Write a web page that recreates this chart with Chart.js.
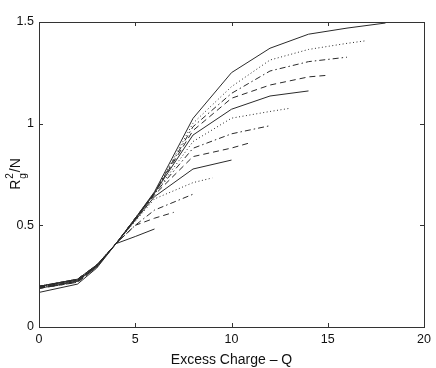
<!DOCTYPE html>
<html>
<head>
<meta charset="utf-8">
<script src="https://cdn.jsdelivr.net/npm/chart.js@4/dist/chart.umd.min.js"></script>
<style>
  body { margin: 0; background: #fff; }
</style>
</head>
<body>
<canvas id="rgChart" width="436" height="368"></canvas>
<script>
// charge values sampled (each curve stops at its own max charge)
const chargeGrid = [0, 2, 3, 4, 5, 6, 8, 10, 12, 14, 16, 18];
const maxCharge = [6, 7, 8, 9, 10, 11, 12, 13, 14, 15, 16, 17, 18];

// R_g^2/N, one list per curve
const rg6  = [0.17, 0.211, 0.29, 0.41, 0.445, 0.482];
const rg7  = [0.19, 0.22, 0.295, 0.41, 0.50, 0.535, 0.564];
const rg8  = [0.19, 0.22, 0.295, 0.41, 0.50, 0.575, 0.653];
const rg9  = [0.195, 0.225, 0.30, 0.41, 0.52, 0.63, 0.71, 0.733];
const rg10 = [0.19, 0.225, 0.30, 0.41, 0.525, 0.641, 0.777, 0.821];
const rg11 = [0.195, 0.225, 0.30, 0.41, 0.53, 0.65, 0.838, 0.88, 0.907];
const rg12 = [0.195, 0.23, 0.30, 0.41, 0.53, 0.655, 0.879, 0.95, 0.99];
const rg13 = [0.20, 0.23, 0.30, 0.41, 0.53, 0.655, 0.912, 1.027, 1.06, 1.075];
const rg14 = [0.20, 0.23, 0.30, 0.41, 0.53, 0.66, 0.944, 1.071, 1.136, 1.161];
const rg15 = [0.20, 0.235, 0.305, 0.41, 0.535, 0.66, 0.966, 1.125, 1.19, 1.23, 1.238];
const rg16 = [0.20, 0.235, 0.305, 0.41, 0.535, 0.66, 0.985, 1.149, 1.259, 1.305, 1.327];
const rg17 = [0.20, 0.235, 0.305, 0.41, 0.535, 0.66, 1.002, 1.182, 1.313, 1.365, 1.395, 1.408];
const rg18 = [0.20, 0.235, 0.305, 0.41, 0.535, 0.665, 1.026, 1.251, 1.371, 1.44, 1.47, 1.495];

const xTicks = [0, 5, 10, 15, 20];
const yTicks = [0, 0.5, 1, 1.5];

const allCurves = [rg6, rg7, rg8, rg9, rg10, rg11, rg12, rg13, rg14, rg15, rg16, rg17, rg18];
// matlab style order: solid, dashed, dash-dot, dotted
const dashStyles = [[], [6, 4], [6, 3, 1.5, 3], [1, 2.5]];

function chargesFor(qmax) {
    const qs = chargeGrid.filter(q => q <= qmax);
    if (qs[qs.length - 1] !== qmax) qs.push(qmax);
    return qs;
}

const datasets = allCurves.map((vals, i) => {
    const qs = chargesFor(maxCharge[i]);
    return {
        data: qs.map((q, k) => ({ x: q, y: vals[k] })),
        borderColor: '#2a2a2a',
        borderWidth: 1,
        borderDash: dashStyles[i % 4],
        pointRadius: 0,
        fill: false,
        tension: 0,
    };
});

// frame, inward ticks and the axis labels (with sub/superscript)
const framePlugin = {
    id: 'frame',
    afterDraw(chart) {
        const { ctx, chartArea: a, scales } = chart;
        const xs = scales.x, ys = scales.y;
        ctx.save();
        ctx.strokeStyle = '#333';
        ctx.lineWidth = 1;
        ctx.strokeRect(a.left + 0.5, a.top + 0.5, a.right - a.left, a.bottom - a.top);
        ctx.beginPath();
        xTicks.forEach(v => {
            const px = Math.round(xs.getPixelForValue(v)) + 0.5;
            ctx.moveTo(px, a.bottom); ctx.lineTo(px, a.bottom - 4);
            ctx.moveTo(px, a.top); ctx.lineTo(px, a.top + 4);
        });
        yTicks.forEach(v => {
            const py = Math.round(ys.getPixelForValue(v)) + 0.5;
            ctx.moveTo(a.left, py); ctx.lineTo(a.left + 4, py);
            ctx.moveTo(a.right, py); ctx.lineTo(a.right - 4, py);
        });
        ctx.stroke();

        ctx.fillStyle = '#111';
        ctx.font = '14px "Liberation Sans", Arial, sans-serif';
        ctx.textAlign = 'center';
        ctx.textBaseline = 'alphabetic';
        ctx.fillText('Excess Charge \u2013 Q', (a.left + a.right) / 2, 364);

        // y title R_g^2/N rotated
        ctx.translate(20, 174);
        ctx.rotate(-Math.PI / 2);
        const big = '14px "Liberation Sans", Arial, sans-serif';
        const small = '10px "Liberation Sans", Arial, sans-serif';
        ctx.font = big;
        const wR = ctx.measureText('R').width;
        const wN = ctx.measureText('/N').width;
        ctx.font = small;
        const wS = Math.max(ctx.measureText('2').width, ctx.measureText('g').width) + 2;
        let x0 = -(wR + wS + wN) / 2;
        ctx.textAlign = 'left';
        ctx.font = big;
        ctx.fillText('R', x0, 0);
        ctx.font = small;
        ctx.fillText('2', x0 + wR + 1, -7);
        ctx.fillText('g', x0 + wR + 1, 6);
        ctx.font = big;
        ctx.fillText('/N', x0 + wR + wS, 0);
        ctx.restore();
    }
};

new Chart(document.getElementById('rgChart').getContext('2d'), {
    type: 'line',
    data: { datasets },
    plugins: [framePlugin],
    options: {
        responsive: false,
        animation: false,
        layout: { padding: { left: 0, top: 22, right: 12, bottom: 0 } },
        plugins: { legend: { display: false }, tooltip: { enabled: false } },
        scales: {
            x: {
                type: 'linear',
                min: 0,
                max: 20,
                afterFit: s => { s.height = 41; },
                afterBuildTicks: s => { s.ticks = xTicks.map(v => ({ value: v })); },
                grid: { display: false, drawTicks: false },
                border: { display: false },
                ticks: {
                    padding: 5,
                    color: '#111',
                    font: { family: '"Liberation Sans", Arial, sans-serif', size: 12.5 },
                    callback: v => String(v),
                },
            },
            y: {
                type: 'linear',
                min: 0,
                max: 1.5,
                afterFit: s => { s.width = 39; },
                afterBuildTicks: s => { s.ticks = yTicks.map(v => ({ value: v })); },
                grid: { display: false, drawTicks: false },
                border: { display: false },
                ticks: {
                    padding: 5,
                    color: '#111',
                    font: { family: '"Liberation Sans", Arial, sans-serif', size: 12.5 },
                    callback: v => String(v),
                },
            },
        },
    },
});
</script>
</body>
</html>
